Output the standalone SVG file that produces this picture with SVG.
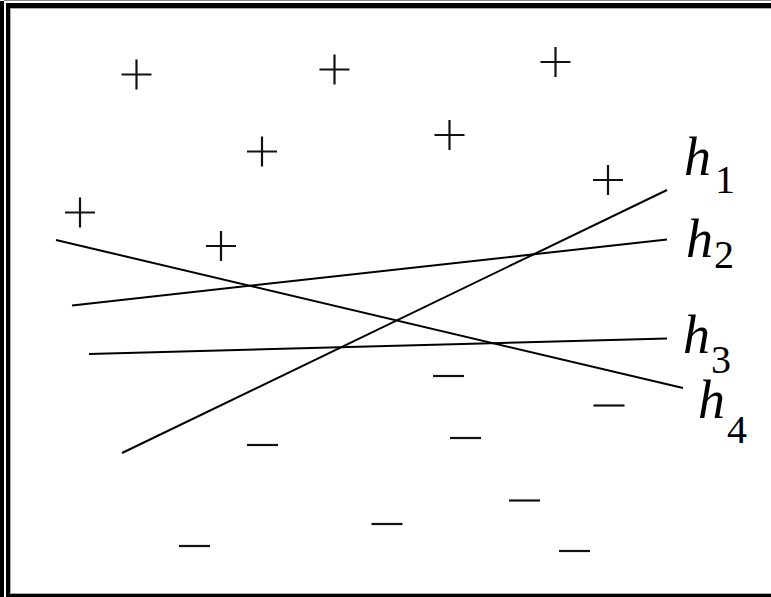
<svg xmlns="http://www.w3.org/2000/svg" width="771" height="597" viewBox="0 0 771 597">
<style>
.ln{stroke:#000;stroke-width:2;fill:none}
.mk{stroke:#111;stroke-width:2.2;fill:none}
.h{font-family:'Liberation Serif','DejaVu Serif',serif;font-style:italic;font-size:54px;fill:#000}
.d{font-family:'Liberation Serif','DejaVu Serif',serif;font-size:40px;fill:#000}
</style>
<defs>
<path id="plus" class="mk" d="M-15,0H15M0,-15V15"/>
<path id="minus" class="mk" d="M-15.5,0H15.5"/>
</defs>
<rect width="771" height="597" fill="#fff"/>
<g id="frame">
<rect x="0" y="1" width="4" height="596" fill="#000"/>
<rect x="4" y="0" width="767" height="1" fill="#888"/>
<rect x="6" y="3" width="4" height="594" fill="#000"/>
<rect x="6" y="3" width="765" height="5" fill="#000"/>
<rect x="10" y="8" width="761" height="1" fill="#aaa"/>
<rect x="10" y="8" width="1" height="586" fill="#aaa"/>
<rect x="6" y="594" width="765" height="3" fill="#000"/>
<rect x="10" y="593" width="761" height="1" fill="#aaa"/>
</g>
<g id="connectors">
<line id="h1-line" class="ln" x1="122" y1="453" x2="667" y2="190"/>
<line id="h2-line" class="ln" x1="72" y1="305.5" x2="667" y2="239.5"/>
<line id="h3-line" class="ln" x1="89" y1="354" x2="667" y2="338.5"/>
<line id="h4-line" class="ln" x1="56" y1="240" x2="683" y2="388"/>
</g>
<g id="positives">
<use href="#plus" x="136.5" y="74.5"/>
<use href="#plus" x="334.5" y="69.5"/>
<use href="#plus" x="555.5" y="62"/>
<use href="#plus" x="262" y="151.5"/>
<use href="#plus" x="449.5" y="135"/>
<use href="#plus" x="608" y="180"/>
<use href="#plus" x="80" y="212.5"/>
<use href="#plus" x="221" y="246"/>
</g>
<g id="negatives">
<use href="#minus" x="448.5" y="376"/>
<use href="#minus" x="609" y="405.5"/>
<use href="#minus" x="262.5" y="445"/>
<use href="#minus" x="465.5" y="438"/>
<use href="#minus" x="524.5" y="500.5"/>
<use href="#minus" x="387" y="524"/>
<use href="#minus" x="194.5" y="546"/>
<use href="#minus" x="574.5" y="551"/>
</g>
<g id="label-h1"><text class="h" x="684" y="175">h</text><text class="d" x="715" y="193">1</text></g>
<g id="label-h2"><text class="h" x="686" y="257">h</text><text class="d" x="714" y="268">2</text></g>
<g id="label-h3"><text class="h" x="683" y="353">h</text><text class="d" x="711" y="373">3</text></g>
<g id="label-h4"><text class="h" x="698" y="418">h</text><text class="d" x="727" y="443">4</text></g>
</svg>
